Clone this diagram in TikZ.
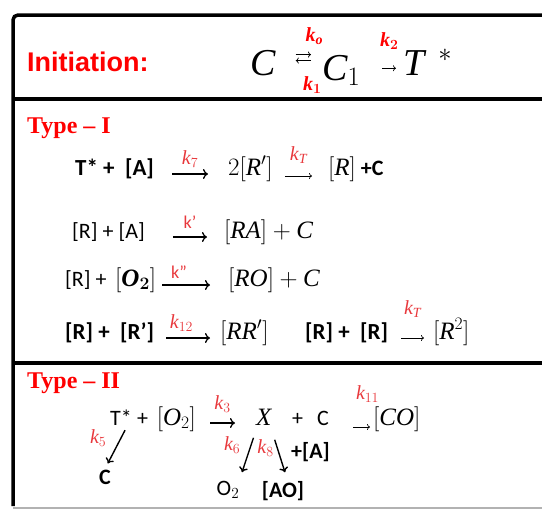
\documentclass[tikz,border=0pt]{standalone}
\usepackage{fix-cm}
\usepackage{amsmath, amssymb}
\usepackage{fontspec}
\setmainfont{Carlito}
\newfontfamily\titlefont{Liberation Sans}
\newfontfamily\typefont{Liberation Serif}
\newfontfamily\mathletters[NFSSFamily=libserif]{Liberation Serif}
\DeclareSymbolFont{letters}{TU}{libserif}{m}{it}
\SetSymbolFont{letters}{bold}{TU}{libserif}{b}{it}
\DeclareSymbolFont{operators}{TU}{libserif}{m}{n}
\SetSymbolFont{operators}{bold}{TU}{libserif}{b}{n}
\usepackage{tikz}
\usetikzlibrary{positioning, arrows.meta, calc}

\definecolor{hred}{RGB}{255,0,0}
\definecolor{kred}{RGB}{232,56,60}
\newcommand{\spec}[1]{{\fontsize{25}{28}\selectfont$#1$}}

\begin{document}
\begin{tikzpicture}[
  x=1pt, y=-1pt,
  eq/.style={inner sep=0pt, anchor=west, font=\fontsize{22}{26}\selectfont,
             text height=15pt, text depth=5pt},
  beq/.style={eq, font=\bfseries\fontsize{23}{26}\selectfont},
  big/.style={inner sep=0pt, anchor=base west, font=\fontsize{38}{40}\selectfont},
  rate/.style={text=kred, inner sep=0pt, font=\fontsize{20}{24}\selectfont},
  head/.style={inner sep=0pt, anchor=west, text=hred},
  longarr/.style={-{To[length=5pt,width=10pt]}, line width=1.3pt},
  shortarr/.style={-{To[length=3pt,width=6pt]}, line width=0.7pt},
  downarr/.style={-{To[length=5pt,width=9pt]}, line width=1.4pt},
  frame/.style={line width=3.5pt}
]
\useasboundingbox (0,0) rectangle (542,509);

% frame
\draw[frame, rounded corners=5pt] (542,15) -- (13,15) -- (13,506);
\draw[frame] (13,99) -- (542,99);
\draw[frame] (13,363) -- (542,363);
\draw[gray!60, line width=1.5pt] (13,508) -- (542,508);

% initiation
\node[head, font=\titlefont\bfseries\fontsize{27}{30}\selectfont] (init) at (27,62) {Initiation:};
\node[big] (c0) at (250,75) {$C$};
\node[big] (c1) at (322,80) {$C_1$};
\node[big] (tst) at (403,75) {$T^{\hspace{14pt}*}$};
\draw[shortarr] ([xshift=20pt,yshift=8pt]c0.east) --
  node[rate, above=10pt, xshift=11pt, text=hred] {$\boldsymbol{k_o}$}
  ([xshift=-11pt,yshift=8pt]c0.east -| c1.west);
\draw[shortarr] ([xshift=-11pt,yshift=2pt]c0.east -| c1.west) --
  node[rate, below=16pt, xshift=9pt, text=hred] {$\boldsymbol{k_1}$}
  ([xshift=20pt,yshift=2pt]c0.east);
\draw[shortarr] ([xshift=22pt,yshift=2pt]c1.east) --
  node[rate, above=18pt, text=hred] {$\boldsymbol{k_2}$}
  ([xshift=-7pt,yshift=2pt]c1.east -| tst.west);

% type I
\node[head, font=\typefont\bfseries\fontsize{24}{26}\selectfont] (type1) at (27,128) {Type \textendash\ I};

\node[beq] (r1a) at (75,170) {T* + \ [A]};
\node[eq] (r1b) at (228,170) {\spec{2[R']}};
\node[eq] (r1c) at (328,170) {\spec{[R]} \textbf{+C}};
\draw[longarr] ([xshift=18pt,yshift=-4pt]r1a.east) --
  node[rate, above=6pt] {$k_7$} ([xshift=-20pt,yshift=-4pt]r1b.west);
\draw[shortarr] ([xshift=12pt,yshift=-6pt]r1b.east) --
  node[rate, above=12pt] {$k_T$} ([xshift=-16pt,yshift=-6pt]r1b.east -| r1c.west);

\node[eq] (r2a) at (72,233) {[R] + [A]};
\node[eq] (r2b) at (224,233) {\spec{[RA]+C}};
\draw[longarr] ([xshift=28pt,yshift=-4pt]r2a.east) --
  node[rate, above=8pt, font=\fontsize{18}{20}\selectfont] {k'} ([xshift=-17pt,yshift=-4pt]r2b.west);

\node[eq] (r3a) at (65,281) {[R] + \,\spec{[\boldsymbol{O_2}]}};
\node[eq] (r3b) at (228,281) {\spec{[RO]+C}};
\draw[longarr] ([xshift=6pt,yshift=-4pt]r3a.east) --
  node[rate, above=6pt, pos=0.35, font=\fontsize{18}{20}\selectfont] {k''} ([xshift=-18pt,yshift=-4pt]r3b.west);

\node[beq] (r4a) at (65,334) {[R] + \ [R']};
\node[eq] (r4b) at (220,334) {\spec{[RR']}};
\node[beq] (r4c) at (305,334) {[R] + \ [R]};
\node[eq] (r4d) at (433,334) {\spec{[R^2]}};
\draw[longarr] ([xshift=12pt,yshift=-4pt]r4a.east) --
  node[rate, above=6pt, pos=0.35] {$k_{12}$} ([xshift=-10pt,yshift=-4pt]r4b.west);
\draw[shortarr] ([xshift=13pt,yshift=-4pt]r4c.east) --
  node[rate, above=20pt] {$k_T$} ([xshift=-9pt,yshift=-4pt]r4d.west);

% type II
\node[head, font=\typefont\bfseries\fontsize{24}{26}\selectfont] (type2) at (27,383) {Type \textendash\ II};

\node[eq] (ts2) at (110,420) {T*};
\node[eq] (t2b) at (137,420) {+ \,\spec{[O_2]}};
\node[eq] (xx) at (256,420) {\spec{X}};
\node[eq] (t2c) at (292,420) {+\hspace{14pt}C};
\node[eq] (co) at (373,420) {\spec{[CO]}};
\draw[longarr] ([xshift=14pt,yshift=-3pt]t2b.east) --
  node[rate, above=10pt] {$k_3$} ([xshift=-21pt,yshift=-3pt]xx.west);
\draw[shortarr] ([xshift=24pt,yshift=-7pt]t2c.east) --
  node[rate, above=24pt, xshift=6pt] {$k_{11}$} ([xshift=-3pt,yshift=-7pt]co.west);

\node[eq, anchor=center] (c5) at (105,479) {\bfseries C};
\node[eq, anchor=center] (o2) at (228,490) {O$_2$};
\node[eq, anchor=center] (ao) at (283,492) {\bfseries [AO]};
\node[eq] (pa) at (291,453) {\bfseries +[A]};

\draw[downarr, shorten >=6pt] ([xshift=4pt]ts2.south) --
  node[rate, pos=0.2, left=14pt] {$k_5$} (c5.north);
\draw[downarr, shorten <=8pt, shorten >=8pt] (xx.south west) --
  node[rate, pos=0.3, left=10pt] {$k_6$} (o2.north east);
\draw[downarr, shorten <=10pt, shorten >=10pt] (xx.south east) --
  node[rate, pos=0.35, left=3pt] {$k_8$} ([xshift=5pt]ao.north);
\end{tikzpicture}
\end{document}
